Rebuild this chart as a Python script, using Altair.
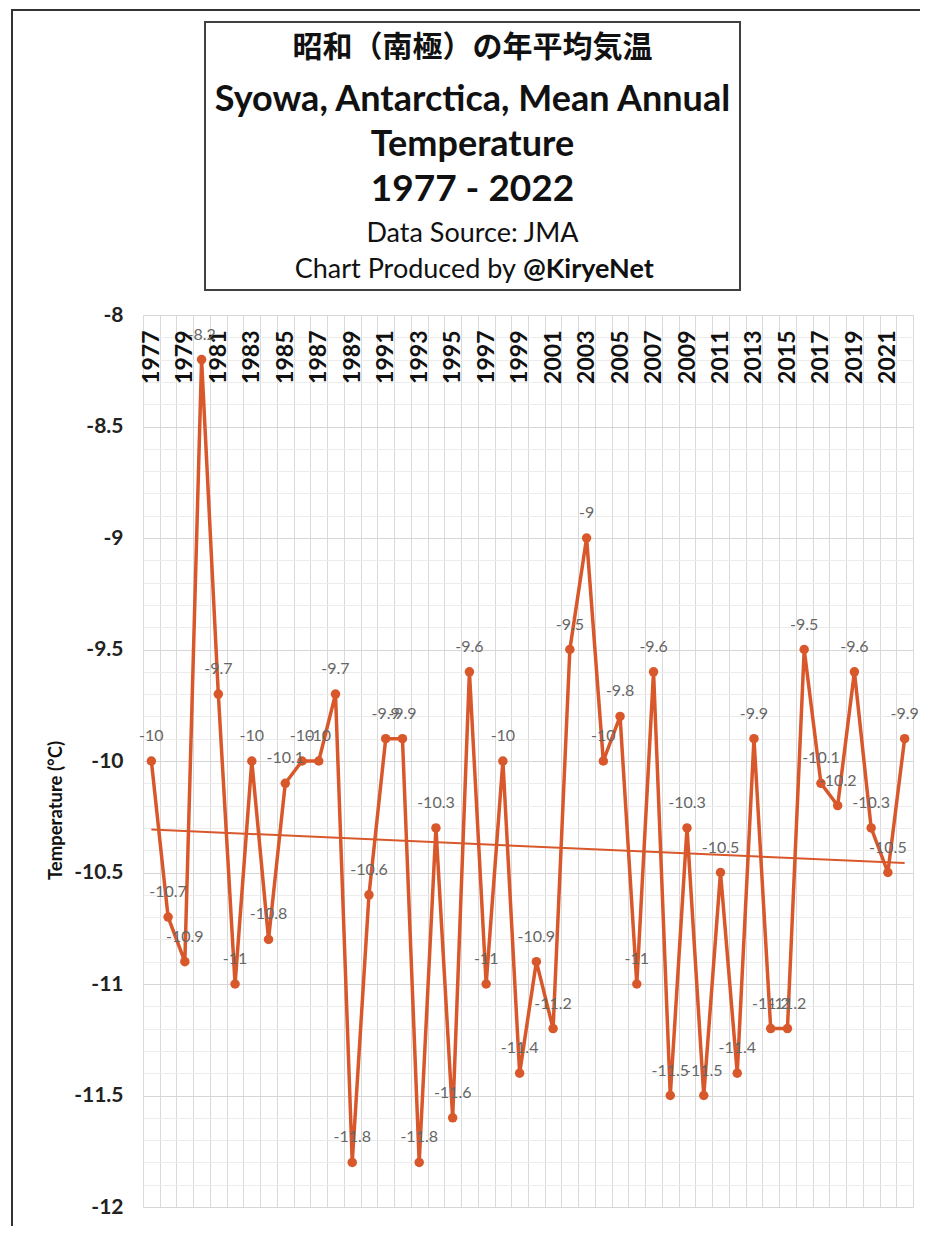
import altair as alt
import pandas as pd

# ---- data ----
years = list(range(1977, 2023))
temps = [-10, -10.7, -10.9, -8.2, -9.7, -11, -10, -10.8, -10.1, -10,
         -10, -9.7, -11.8, -10.6, -9.9, -9.9, -11.8, -10.3, -11.6, -9.6,
         -11, -10, -11.4, -10.9, -11.2, -9.5, -9, -10, -9.8, -11,
         -9.6, -11.5, -10.3, -11.5, -10.5, -11.4, -9.9, -11.2, -11.2, -9.5,
         -10.1, -10.2, -9.6, -10.3, -10.5, -9.9]
labels = [f"{t:g}" for t in temps]

label_years = [1977, 1979, 1981, 1983, 1985, 1987, 1989, 1991, 1993, 1995, 1997, 1999,
               2001, 2003, 2005, 2007, 2009, 2011, 2013, 2015, 2017, 2019, 2021]
grid_years = [y + 0.5 for y in range(1976, 2023)]
major_y = [-12, -11.5, -11, -10.5, -10, -9.5, -9, -8.5, -8]
minor_y = [round(-12 + 0.1 * i, 1) for i in range(41) if i % 5 != 0]

title_lines = ["昭和（南極）の年平均気温", "Syowa, Antarctica, Mean Annual", "Temperature",
               "1977 - 2022", "Data Source: JMA", "Chart Produced by", "@KiryeNet"]
y_title = "Temperature (°C)"

df = pd.DataFrame({"Year": years, "Temp": temps, "Label": labels})
one = pd.DataFrame({"k": [0]})

W, H = 770, 892
C = "#D9582B"
FONT = "Lato"
JFONT = "Noto Sans CJK JP"

xscale = alt.Scale(domain=[1976.5, 2022.5], nice=False, zero=False)
yscale = alt.Scale(domain=[-12, -8], nice=False, zero=False)

x_main = alt.X("Year:Q", scale=xscale, axis=alt.Axis(
    orient="bottom", offset=-H, values=label_years, format="d", labelAngle=-90,
    labelFont=FONT, labelFontSize=23, labelFontWeight="bold", labelColor="#111111",
    labelPadding=15, ticks=False, tickSize=0, domain=False, grid=False, title=None,
    labelOverlap=False, labelFlush=False))
y_main = alt.Y("Temp:Q", scale=yscale, axis=alt.Axis(
    orient="left", values=major_y, labelExpr="'' + datum.value", grid=True,
    gridColor="#d6d6d6", gridWidth=1, ticks=False, tickSize=0, domain=False,
    labelFont=FONT, labelFontSize=21, labelFontWeight="bold", labelColor="#222222",
    labelPadding=20, title=y_title, titleFont=FONT, titleFontSize=18.5,
    titleFontWeight="bold", titleColor="#111111", titleX=-88, titleY=495,
    titleAngle=-90, titleAlign="center", titleBaseline="middle"))

line = alt.Chart(df).mark_line(color=C, strokeWidth=3.5).encode(x=x_main, y=y_main)
pts = alt.Chart(df).mark_point(filled=True, color=C, size=90, opacity=1).encode(x=x_main, y=y_main)
txt = alt.Chart(df).mark_text(font=FONT, fontSize=16, color="#666666", baseline="middle",
                              dy=-25).encode(x=x_main, y=y_main, text="Label:N")
main = alt.layer(line, pts, txt)

trend = alt.Chart(df).transform_regression("Year", "Temp").mark_line(
    color=C, strokeWidth=2).encode(
    x=alt.X("Year:Q", scale=xscale, axis=alt.Axis(
        orient="top", values=grid_years, grid=True, gridColor="#d9d9d9", labels=False,
        ticks=False, tickSize=0, domain=False, title=None)),
    y=alt.Y("Temp:Q", scale=yscale, axis=alt.Axis(
        orient="right", values=minor_y, grid=True, gridColor="#ececec", labels=False,
        ticks=False, tickSize=0, domain=False, title=None)))

frame = alt.Chart(one).mark_rect(fillOpacity=0, stroke="#333333", strokeWidth=2).encode(
    x=alt.value(-131), x2=alt.value(W + 60), y=alt.value(-305), y2=alt.value(H + 60))
box = alt.Chart(one).mark_rect(fillOpacity=0, stroke="#404040", strokeWidth=2).encode(
    x=alt.value(62), x2=alt.value(597), y=alt.value(-293), y2=alt.value(-25))

cx = 329.5
def t(s, y, size, weight="bold", font=FONT, align="center", x=cx):
    return alt.Chart(one).mark_text(text=s, font=font, fontSize=size, fontWeight=weight,
                                    color="#111111", align=align, baseline="middle").encode(
        x=alt.value(x), y=alt.value(y))

titles = [
    t(title_lines[0], -267, 30, font=JFONT),
    t(title_lines[1], -215, 36),
    t(title_lines[2], -170, 36),
    t(title_lines[3], -125, 37),
    t(title_lines[4], -81, 27, weight="normal"),
    t(title_lines[5], -45, 27, weight="normal", align="right", x=373),
    t(title_lines[6], -45, 27, align="left", x=380),
]

chart = alt.layer(frame, box, *titles, trend, main).resolve_axis(
    x="independent", y="independent").properties(
    width=W, height=H,
    autosize=alt.AutoSizeParams(type="none"),
    padding={"left": 135, "top": 307, "right": 7, "bottom": 19},
).configure_view(stroke=None)

chart.save("out.html", embed_options={"renderer": "svg", "actions": False})
